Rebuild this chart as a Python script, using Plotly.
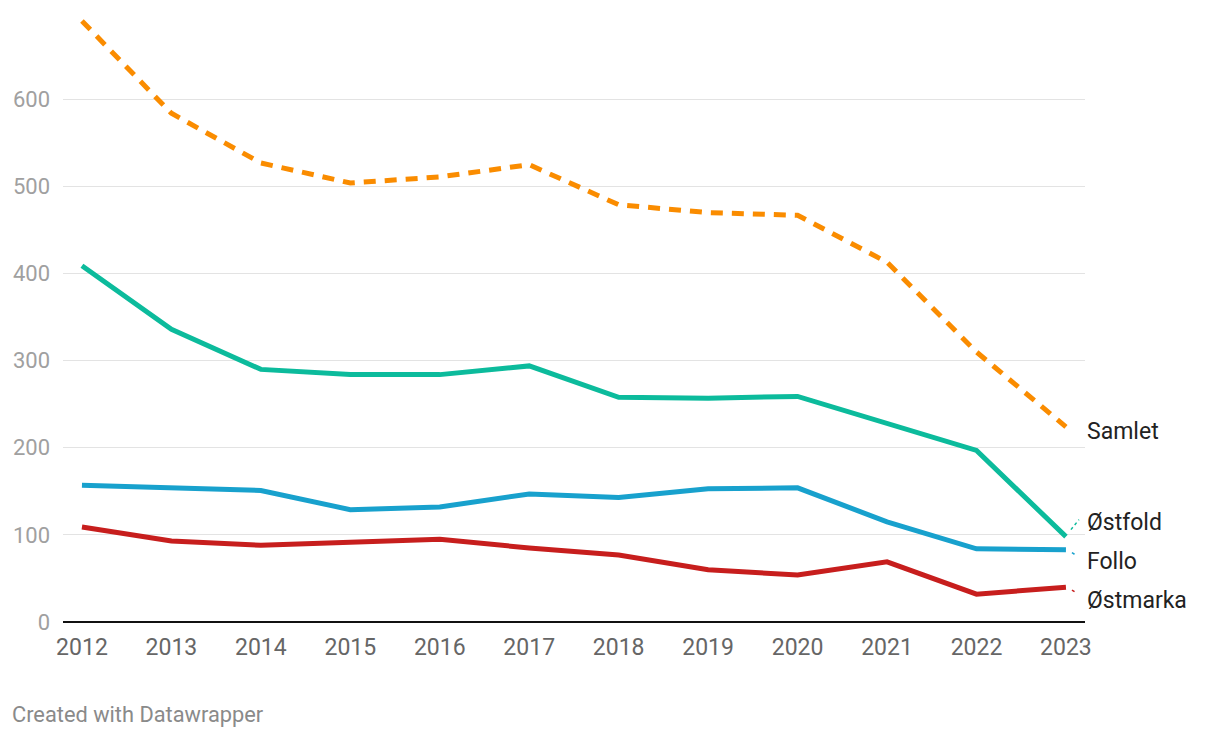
import plotly.graph_objects as go

years = [2012, 2013, 2014, 2015, 2016, 2017, 2018, 2019, 2020, 2021, 2022, 2023]
samlet = [690, 584, 527, 504, 511, 525, 479, 470, 467, 413, 310, 224]
ostfold = [409, 336, 290, 284, 284, 294, 258, 257, 259, 228, 197, 98]
follo = [157, 154, 151, 129, 132, 147, 143, 153, 154, 115, 84, 83]
ostmarka = [109, 93, 88, 92, 95, 85, 77, 60, 54, 69, 32, 40]

series_names = ["Samlet", "Østfold", "Follo", "Østmarka"]
series_values = [samlet, ostfold, follo, ostmarka]
series_colors = ["#fa8c00", "#0cbb9c", "#18a1cd", "#c71e1d"]
series_dash = ["12px,9px", "solid", "solid", "solid"]
label_offsets = [5, -14, 12, 13]
# connector offsets in pixels (start, end) relative to the last point
connectors = [None, (5, 7, 13, 17), (6, -3, 11, -6), (6, -3, 11, -6)]

y_ticks = [0, 100, 200, 300, 400, 500, 600]

W, H = 1212, 730
L, R, T, B = 55, 135, 2, 116

fig = go.Figure()
for name, vals, col, dash in zip(series_names, series_values, series_colors, series_dash):
    fig.add_trace(go.Scatter(x=years, y=vals, mode="lines", name=name,
                             line=dict(color=col, width=5, dash=dash),
                             hoverinfo="skip"))

for name, vals, col, off, con in zip(series_names, series_values, series_colors,
                                     label_offsets, connectors):
    fig.add_annotation(x=years[-1], y=vals[-1], xref="x", yref="y",
                       text=name, showarrow=False,
                       xshift=19, yshift=-off, xanchor="left", yanchor="middle",
                       font=dict(family="Roboto", size=23, color="#222222"))
    if con is not None:
        fig.add_shape(type="line", xref="x", yref="y",
                      xsizemode="pixel", ysizemode="pixel",
                      xanchor=years[-1], yanchor=vals[-1],
                      x0=con[0], y0=con[1], x1=con[2], y1=con[3],
                      line=dict(color=col, width=1.5, dash="dot"))

pw, ph = W - L - R, H - T - B
fig.add_annotation(x=(2 - L) / pw, y=(H - B - 706) / ph, xref="paper", yref="paper",
                   text="Created with Datawrapper",
                   showarrow=False, xanchor="left", yanchor="middle",
                   font=dict(family="Roboto", size=21.8, color="#8a8a8a"))

fig.update_layout(
    width=W, height=H,
    margin=dict(l=L, r=R, t=T, b=B),
    paper_bgcolor="white", plot_bgcolor="white",
    showlegend=False,
    font=dict(family="Roboto"),
    xaxis=dict(range=[2011.788, 2023.213], tickvals=years, ticktext=[str(y) for y in years],
               showgrid=False, zeroline=False, showline=False,
               ticks="", ticklabelstandoff=9,
               tickfont=dict(family="Roboto", size=23, color="#666666")),
    yaxis=dict(range=[0, 702.6], tickvals=y_ticks, showgrid=True, gridcolor="#e3e3e3",
               gridwidth=1, zeroline=True, zerolinecolor="#111111", zerolinewidth=2,
               showline=False, ticks="", ticklabelstandoff=12,
               tickfont=dict(family="Roboto", size=22, color="#a0a0a0")),
)

fig.write_html("out.html", config={"displayModeBar": False})
